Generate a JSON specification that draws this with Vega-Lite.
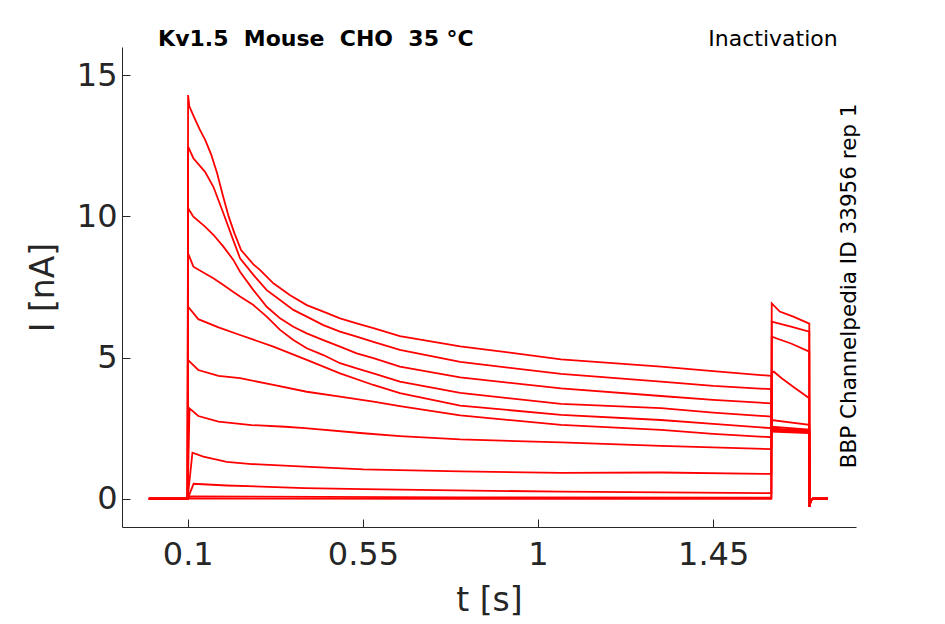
{
  "$schema": "https://vega.github.io/schema/vega-lite/v6.json",
  "description": "Kv1.5 inactivation protocol current traces",
  "width": 734,
  "height": 480,
  "autosize": "none",
  "padding": {"left": 122, "top": 47, "right": 89, "bottom": 97},
  "background": "white",
  "config": {
    "view": {"stroke": null},
    "font": "DejaVu Sans",
    "axis": {
      "grid": false,
      "domainColor": "#262626",
      "domainWidth": 1,
      "tickColor": "#262626",
      "tickWidth": 1,
      "tickSize": -8,
      "labelFont": "DejaVu Sans",
      "labelFontSize": 32,
      "labelColor": "#262626",
      "labelFlush": false,
      "labelOverlap": false,
      "titleFont": "DejaVu Sans",
      "titleFontSize": 33,
      "titleFontWeight": "normal",
      "titleColor": "#262626"
    }
  },
  "datasets": {
    "traces": [
      {"trace": 0, "t": 0, "I": 0}, {"trace": 0, "t": 0.0995, "I": 0}, {"trace": 0, "t": 0.1005, "I": 0.01},
      {"trace": 0, "t": 0.8, "I": 0}, {"trace": 0, "t": 1.5995, "I": 0},
      {"trace": 0, "t": 1.6005, "I": 6.92}, {"trace": 0, "t": 1.621, "I": 6.63}, {"trace": 0, "t": 1.656, "I": 6.45}, {"trace": 0, "t": 1.697, "I": 6.2},
      {"trace": 0, "t": 1.6975, "I": -0.28}, {"trace": 0, "t": 1.701, "I": -0.05}, {"trace": 0, "t": 1.706, "I": 0}, {"trace": 0, "t": 1.745, "I": 0},

      {"trace": 1, "t": 0, "I": 0}, {"trace": 1, "t": 0.0995, "I": 0}, {"trace": 1, "t": 0.105, "I": 0.08},
      {"trace": 1, "t": 0.8, "I": 0.05}, {"trace": 1, "t": 1.5995, "I": 0.04},
      {"trace": 1, "t": 1.6005, "I": 6.27}, {"trace": 1, "t": 1.65, "I": 6.1}, {"trace": 1, "t": 1.697, "I": 5.92},
      {"trace": 1, "t": 1.6975, "I": -0.28}, {"trace": 1, "t": 1.701, "I": -0.05}, {"trace": 1, "t": 1.706, "I": 0}, {"trace": 1, "t": 1.745, "I": 0},

      {"trace": 2, "t": 0, "I": 0}, {"trace": 2, "t": 0.0995, "I": 0}, {"trace": 2, "t": 0.115, "I": 0.53},
      {"trace": 2, "t": 0.2, "I": 0.47}, {"trace": 2, "t": 0.4, "I": 0.38}, {"trace": 2, "t": 0.551, "I": 0.34},
      {"trace": 2, "t": 1.059, "I": 0.25}, {"trace": 2, "t": 1.5995, "I": 0.2},
      {"trace": 2, "t": 1.6005, "I": 5.74}, {"trace": 2, "t": 1.65, "I": 5.5}, {"trace": 2, "t": 1.697, "I": 5.21},
      {"trace": 2, "t": 1.6975, "I": -0.28}, {"trace": 2, "t": 1.701, "I": -0.05}, {"trace": 2, "t": 1.706, "I": 0}, {"trace": 2, "t": 1.745, "I": 0},

      {"trace": 3, "t": 0, "I": 0}, {"trace": 3, "t": 0.0995, "I": 0}, {"trace": 3, "t": 0.112, "I": 1.63},
      {"trace": 3, "t": 0.14, "I": 1.49}, {"trace": 3, "t": 0.2, "I": 1.31}, {"trace": 3, "t": 0.264, "I": 1.23},
      {"trace": 3, "t": 0.4, "I": 1.14}, {"trace": 3, "t": 0.551, "I": 1.04}, {"trace": 3, "t": 0.8, "I": 0.97},
      {"trace": 3, "t": 1.059, "I": 0.92}, {"trace": 3, "t": 1.316, "I": 0.93}, {"trace": 3, "t": 1.5995, "I": 0.88},
      {"trace": 3, "t": 1.6005, "I": 4.45}, {"trace": 3, "t": 1.606, "I": 4.5}, {"trace": 3, "t": 1.626, "I": 4.27},
      {"trace": 3, "t": 1.66, "I": 3.92}, {"trace": 3, "t": 1.697, "I": 3.56},
      {"trace": 3, "t": 1.6975, "I": -0.28}, {"trace": 3, "t": 1.701, "I": -0.05}, {"trace": 3, "t": 1.706, "I": 0}, {"trace": 3, "t": 1.745, "I": 0},

      {"trace": 4, "t": 0, "I": 0}, {"trace": 4, "t": 0.0995, "I": 0}, {"trace": 4, "t": 0.1045, "I": 3.2},
      {"trace": 4, "t": 0.127, "I": 2.93}, {"trace": 4, "t": 0.179, "I": 2.73}, {"trace": 4, "t": 0.264, "I": 2.61},
      {"trace": 4, "t": 0.35, "I": 2.55}, {"trace": 4, "t": 0.401, "I": 2.5}, {"trace": 4, "t": 0.551, "I": 2.32},
      {"trace": 4, "t": 0.645, "I": 2.22}, {"trace": 4, "t": 0.8, "I": 2.1}, {"trace": 4, "t": 1.059, "I": 2.0},
      {"trace": 4, "t": 1.316, "I": 1.87}, {"trace": 4, "t": 1.5995, "I": 1.76},
      {"trace": 4, "t": 1.6005, "I": 2.79}, {"trace": 4, "t": 1.697, "I": 2.62},
      {"trace": 4, "t": 1.6975, "I": -0.28}, {"trace": 4, "t": 1.701, "I": -0.05}, {"trace": 4, "t": 1.706, "I": 0}, {"trace": 4, "t": 1.745, "I": 0},

      {"trace": 5, "t": 0, "I": 0}, {"trace": 5, "t": 0.0995, "I": 0}, {"trace": 5, "t": 0.1008, "I": 4.91},
      {"trace": 5, "t": 0.127, "I": 4.56}, {"trace": 5, "t": 0.179, "I": 4.35}, {"trace": 5, "t": 0.2343, "I": 4.27},
      {"trace": 5, "t": 0.32, "I": 4.03}, {"trace": 5, "t": 0.4057, "I": 3.79}, {"trace": 5, "t": 0.4912, "I": 3.62},
      {"trace": 5, "t": 0.577, "I": 3.44}, {"trace": 5, "t": 0.645, "I": 3.28}, {"trace": 5, "t": 0.8, "I": 2.95},
      {"trace": 5, "t": 1.059, "I": 2.62}, {"trace": 5, "t": 1.316, "I": 2.44}, {"trace": 5, "t": 1.45, "I": 2.3},
      {"trace": 5, "t": 1.5995, "I": 2.18},
      {"trace": 5, "t": 1.6005, "I": 2.55}, {"trace": 5, "t": 1.697, "I": 2.45},
      {"trace": 5, "t": 1.6975, "I": -0.28}, {"trace": 5, "t": 1.701, "I": -0.05}, {"trace": 5, "t": 1.706, "I": 0}, {"trace": 5, "t": 1.745, "I": 0},

      {"trace": 6, "t": 0, "I": 0}, {"trace": 6, "t": 0.0995, "I": 0}, {"trace": 6, "t": 0.1008, "I": 6.8},
      {"trace": 6, "t": 0.127, "I": 6.36}, {"trace": 6, "t": 0.179, "I": 6.07}, {"trace": 6, "t": 0.2343, "I": 5.8},
      {"trace": 6, "t": 0.32, "I": 5.39}, {"trace": 6, "t": 0.4057, "I": 4.92}, {"trace": 6, "t": 0.4912, "I": 4.44},
      {"trace": 6, "t": 0.577, "I": 4.03}, {"trace": 6, "t": 0.645, "I": 3.74},
      {"trace": 6, "t": 0.8, "I": 3.3}, {"trace": 6, "t": 1.059, "I": 2.97}, {"trace": 6, "t": 1.316, "I": 2.79},
      {"trace": 6, "t": 1.45, "I": 2.65}, {"trace": 6, "t": 1.5995, "I": 2.5},
      {"trace": 6, "t": 1.6005, "I": 2.48}, {"trace": 6, "t": 1.697, "I": 2.42},
      {"trace": 6, "t": 1.6975, "I": -0.28}, {"trace": 6, "t": 1.701, "I": -0.05}, {"trace": 6, "t": 1.706, "I": 0}, {"trace": 6, "t": 1.745, "I": 0},

      {"trace": 7, "t": 0, "I": 0}, {"trace": 7, "t": 0.0995, "I": 0}, {"trace": 7, "t": 0.1008, "I": 8.69},
      {"trace": 7, "t": 0.1144, "I": 8.22}, {"trace": 7, "t": 0.1444, "I": 7.98}, {"trace": 7, "t": 0.1658, "I": 7.81},
      {"trace": 7, "t": 0.1915, "I": 7.57}, {"trace": 7, "t": 0.2171, "I": 7.32}, {"trace": 7, "t": 0.2343, "I": 7.16},
      {"trace": 7, "t": 0.2686, "I": 6.86}, {"trace": 7, "t": 0.3029, "I": 6.45}, {"trace": 7, "t": 0.3371, "I": 5.98},
      {"trace": 7, "t": 0.3713, "I": 5.62}, {"trace": 7, "t": 0.4057, "I": 5.33}, {"trace": 7, "t": 0.4483, "I": 5.09},
      {"trace": 7, "t": 0.4912, "I": 4.8}, {"trace": 7, "t": 0.534, "I": 4.62}, {"trace": 7, "t": 0.577, "I": 4.44},
      {"trace": 7, "t": 0.645, "I": 4.15}, {"trace": 7, "t": 0.8, "I": 3.75}, {"trace": 7, "t": 1.059, "I": 3.36},
      {"trace": 7, "t": 1.316, "I": 3.21}, {"trace": 7, "t": 1.45, "I": 3.05}, {"trace": 7, "t": 1.5995, "I": 2.91},
      {"trace": 7, "t": 1.6005, "I": 2.45}, {"trace": 7, "t": 1.697, "I": 2.4},
      {"trace": 7, "t": 1.6975, "I": -0.28}, {"trace": 7, "t": 1.701, "I": -0.05}, {"trace": 7, "t": 1.706, "I": 0}, {"trace": 7, "t": 1.745, "I": 0},

      {"trace": 8, "t": 0, "I": 0}, {"trace": 8, "t": 0.0995, "I": 0}, {"trace": 8, "t": 0.1008, "I": 10.29},
      {"trace": 8, "t": 0.1144, "I": 9.99}, {"trace": 8, "t": 0.1444, "I": 9.64}, {"trace": 8, "t": 0.1658, "I": 9.35},
      {"trace": 8, "t": 0.1915, "I": 8.93}, {"trace": 8, "t": 0.2171, "I": 8.46}, {"trace": 8, "t": 0.2343, "I": 8.04},
      {"trace": 8, "t": 0.2686, "I": 7.39}, {"trace": 8, "t": 0.3029, "I": 6.8}, {"trace": 8, "t": 0.3371, "I": 6.39},
      {"trace": 8, "t": 0.3713, "I": 6.09}, {"trace": 8, "t": 0.4057, "I": 5.86}, {"trace": 8, "t": 0.4483, "I": 5.62},
      {"trace": 8, "t": 0.4912, "I": 5.39}, {"trace": 8, "t": 0.534, "I": 5.15}, {"trace": 8, "t": 0.577, "I": 4.98},
      {"trace": 8, "t": 0.645, "I": 4.68}, {"trace": 8, "t": 0.8, "I": 4.3}, {"trace": 8, "t": 1.059, "I": 3.91},
      {"trace": 8, "t": 1.316, "I": 3.64}, {"trace": 8, "t": 1.45, "I": 3.5}, {"trace": 8, "t": 1.5995, "I": 3.38},
      {"trace": 8, "t": 1.6005, "I": 2.42}, {"trace": 8, "t": 1.697, "I": 2.38},
      {"trace": 8, "t": 1.6975, "I": -0.28}, {"trace": 8, "t": 1.701, "I": -0.05}, {"trace": 8, "t": 1.706, "I": 0}, {"trace": 8, "t": 1.745, "I": 0},

      {"trace": 9, "t": 0, "I": 0}, {"trace": 9, "t": 0.0995, "I": 0}, {"trace": 9, "t": 0.1008, "I": 12.47},
      {"trace": 9, "t": 0.1144, "I": 12.06}, {"trace": 9, "t": 0.1444, "I": 11.58}, {"trace": 9, "t": 0.1658, "I": 11.05},
      {"trace": 9, "t": 0.1915, "I": 10.11}, {"trace": 9, "t": 0.2171, "I": 9.15}, {"trace": 9, "t": 0.2343, "I": 8.52},
      {"trace": 9, "t": 0.2686, "I": 7.93}, {"trace": 9, "t": 0.3029, "I": 7.39}, {"trace": 9, "t": 0.3371, "I": 7.04},
      {"trace": 9, "t": 0.3713, "I": 6.69}, {"trace": 9, "t": 0.4057, "I": 6.45}, {"trace": 9, "t": 0.4483, "I": 6.15},
      {"trace": 9, "t": 0.4912, "I": 5.92}, {"trace": 9, "t": 0.534, "I": 5.74}, {"trace": 9, "t": 0.577, "I": 5.56},
      {"trace": 9, "t": 0.645, "I": 5.27}, {"trace": 9, "t": 0.8, "I": 4.85}, {"trace": 9, "t": 1.059, "I": 4.42},
      {"trace": 9, "t": 1.316, "I": 4.15}, {"trace": 9, "t": 1.45, "I": 4.0}, {"trace": 9, "t": 1.5995, "I": 3.88},
      {"trace": 9, "t": 1.6005, "I": 2.4}, {"trace": 9, "t": 1.697, "I": 2.35},
      {"trace": 9, "t": 1.6975, "I": -0.28}, {"trace": 9, "t": 1.701, "I": -0.05}, {"trace": 9, "t": 1.706, "I": 0}, {"trace": 9, "t": 1.745, "I": 0},

      {"trace": 10, "t": 0, "I": 0}, {"trace": 10, "t": 0.0995, "I": 0}, {"trace": 10, "t": 0.1008, "I": 14.3},
      {"trace": 10, "t": 0.104, "I": 13.9}, {"trace": 10, "t": 0.115, "I": 13.55}, {"trace": 10, "t": 0.13, "I": 13.1},
      {"trace": 10, "t": 0.145, "I": 12.7}, {"trace": 10, "t": 0.16, "I": 12.2}, {"trace": 10, "t": 0.175, "I": 11.55},
      {"trace": 10, "t": 0.19, "I": 10.75}, {"trace": 10, "t": 0.205, "I": 10.0}, {"trace": 10, "t": 0.22, "I": 9.4},
      {"trace": 10, "t": 0.237, "I": 8.81}, {"trace": 10, "t": 0.2686, "I": 8.3}, {"trace": 10, "t": 0.286, "I": 8.1},
      {"trace": 10, "t": 0.32, "I": 7.63}, {"trace": 10, "t": 0.362, "I": 7.22}, {"trace": 10, "t": 0.4057, "I": 6.86},
      {"trace": 10, "t": 0.4483, "I": 6.63}, {"trace": 10, "t": 0.4912, "I": 6.39}, {"trace": 10, "t": 0.534, "I": 6.21},
      {"trace": 10, "t": 0.577, "I": 6.04}, {"trace": 10, "t": 0.645, "I": 5.76}, {"trace": 10, "t": 0.8, "I": 5.4},
      {"trace": 10, "t": 1.059, "I": 4.94}, {"trace": 10, "t": 1.316, "I": 4.68}, {"trace": 10, "t": 1.45, "I": 4.52},
      {"trace": 10, "t": 1.5995, "I": 4.35},
      {"trace": 10, "t": 1.6005, "I": 2.38}, {"trace": 10, "t": 1.697, "I": 2.33},
      {"trace": 10, "t": 1.6975, "I": -0.28}, {"trace": 10, "t": 1.701, "I": -0.05}, {"trace": 10, "t": 1.706, "I": 0}, {"trace": 10, "t": 1.745, "I": 0}
    ]
  },
  "layer": [
    {
      "data": {"name": "traces"},
      "mark": {"type": "line", "color": "#ff0000", "strokeWidth": 1.8, "strokeJoin": "miter"},
      "encoding": {
        "x": {
          "field": "t",
          "type": "quantitative",
          "scale": {"domain": [-0.069, 1.817], "nice": false, "zero": false},
          "axis": {"values": [0.1, 0.55, 1, 1.45], "format": ".3~g", "title": "t [s]", "labelPadding": 20, "titlePadding": 14}
        },
        "y": {
          "field": "I",
          "type": "quantitative",
          "scale": {"domain": [-1, 16], "nice": false, "zero": false},
          "axis": {"values": [0, 5, 10, 15], "format": "d", "title": "I [nA]", "labelPadding": 13, "titlePadding": 16}
        },
        "detail": {"field": "trace", "type": "nominal"},
        "order": {"field": "t", "type": "quantitative"}
      }
    },
    {
      "data": {"values": [{"note": "Kv1.5\u00a0 Mouse\u00a0 CHO\u00a0 35 °C"}]},
      "mark": {"type": "text", "font": "DejaVu Sans", "fontSize": 22, "fontWeight": "bold", "align": "left", "baseline": "alphabetic", "color": "black"},
      "encoding": {
        "x": {"datum": 0.0237},
        "y": {"datum": 16.05},
        "text": {"field": "note"}
      }
    },
    {
      "data": {"values": [{"note": "Inactivation"}]},
      "mark": {"type": "text", "font": "DejaVu Sans", "fontSize": 22, "align": "right", "baseline": "alphabetic", "color": "black"},
      "encoding": {
        "x": {"datum": 1.77},
        "y": {"datum": 16.05},
        "text": {"field": "note"}
      }
    },
    {
      "data": {"values": [{"note": "BBP Channelpedia ID 33956 rep 1"}]},
      "mark": {"type": "text", "font": "DejaVu Sans", "fontSize": 21.5, "align": "center", "baseline": "middle", "angle": 270, "color": "black"},
      "encoding": {
        "x": {"datum": 1.801},
        "y": {"datum": 7.54},
        "text": {"field": "note"}
      }
    }
  ]
}
